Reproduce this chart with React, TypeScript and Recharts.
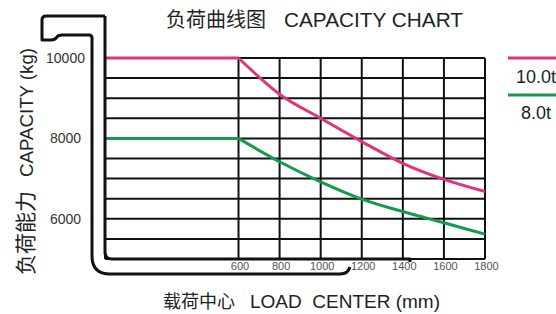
import React from "react";
import { CartesianGrid, Line, LineChart, XAxis, YAxis } from "recharts";

// load centre (mm); the first entry is the heel of the fork, the flat part ends at 600
const loadCenter = [-50, 600, 800, 1000, 1200, 1400, 1600, 1800];
const capacity10t = [10000, 10000, 9100, 8500, 7920, 7380, 6980, 6680];
const capacity8t = [8000, 8000, 7420, 6920, 6490, 6180, 5900, 5620];
const kneeIndex = 1;

const xTicks = [600, 800, 1000, 1200, 1400, 1600, 1800];
const yTicks = [5000, 5500, 6000, 6500, 7000, 7500, 8000, 8500, 9000, 9500, 10000];
const yLabelled = [6000, 8000, 10000];

const seriesNames = ["10.0t", "8.0t"];
const MAGENTA = "#e0337f";
const GREEN = "#159a4f";

const W = 556;
const H = 314;
const PLOT_LEFT = 105;
const PLOT_TOP = 58;
const PLOT_RIGHT = 485;
const PLOT_BOTTOM = 259;
const Y_AXIS_W = 60;
const X_AXIS_H = 20;

const LATIN = "'Liberation Sans', Arial, Helvetica, sans-serif";
const CJK = "'Noto Sans CJK SC', 'Noto Sans', sans-serif";

const data = loadCenter.map((x, i) => ({
  x,
  flat10: i <= kneeIndex ? capacity10t[i] : null,
  curve10: i >= kneeIndex ? capacity10t[i] : null,
  flat8: i <= kneeIndex ? capacity8t[i] : null,
  curve8: i >= kneeIndex ? capacity8t[i] : null,
}));

function YTick({ y, payload }: any) {
  if (!yLabelled.includes(payload.value)) return null;
  return (
    <text x={PLOT_LEFT - 39.5} y={y + 5} textAnchor="middle" fontSize={14} fontFamily={LATIN} fill="#333">
      {payload.value}
    </text>
  );
}

function XTick({ x, payload }: any) {
  return (
    <text x={x + 1.5} y={PLOT_BOTTOM + 11} textAnchor="middle" fontSize={11} fontFamily={LATIN} fill="#555">
      {payload.value}
    </text>
  );
}

function Overlay() {
  const L = PLOT_LEFT;
  const B = PLOT_BOTTOM;
  const outer =
    `M ${L} 16 H 46 Q 42 16 42 20 V 40 H 51 Q 55 40 56.5 37.5 Q 58 35 62 35 H 89 Q 92 35 92 38 ` +
    `V 256 Q 92 274 110 274 H 340 Q 348 274 350 267`;
  const inner = `M ${L} 16 V ${B - 7} Q ${L} ${B} ${L + 7} ${B} H 410 V 262`;
  const colors = [MAGENTA, GREEN];
  return (
    <svg width={W} height={H} style={{ position: "absolute", left: 0, top: 0 }}>
      <path d={outer} fill="none" stroke="#111" strokeWidth={3} strokeLinejoin="round" />
      <path d={inner} fill="none" stroke="#111" strokeWidth={3} strokeLinejoin="round" />

      <text x={166} y={26.5} fontSize={20} fontFamily={CJK} fill="#222">负荷曲线图</text>
      <text x={284} y={26.5} fontSize={20} fontFamily={LATIN} fill="#222" textLength={179} lengthAdjust="spacingAndGlyphs">
        CAPACITY CHART
      </text>

      <text x={163} y={307.5} fontSize={18} fontFamily={CJK} fill="#222">载荷中心</text>
      <text x={250} y={308} fontSize={19} fontFamily={LATIN} fill="#222" textLength={190} lengthAdjust="spacingAndGlyphs">
        LOAD{"\u00a0"} CENTER (mm)
      </text>

      <g transform="translate(33, 0) rotate(-90)">
        <text x={-275} y={0} fontSize={21} fontFamily={CJK} fill="#222">负荷能力</text>
        <text x={-177} y={0} fontSize={19} fontFamily={LATIN} fill="#222" textLength={129} lengthAdjust="spacingAndGlyphs">
          CAPACITY (kg)
        </text>
      </g>

      {seriesNames.map((name, i) => (
        <g key={name}>
          <line x1={508} x2={W} y1={58 + i * 37} y2={58 + i * 37} stroke={colors[i]} strokeWidth={3} />
          <text x={i === 0 ? 516 : 521} y={83 + i * 36} fontSize={18} fontFamily={LATIN} fill="#222">
            {name}
          </text>
        </g>
      ))}
    </svg>
  );
}

export default function App() {
  return (
    <div style={{ position: "absolute", left: 0, top: 0, width: W, height: H, background: "#fff" }}>
      <LineChart
        width={W}
        height={H}
        data={data}
        margin={{
          top: PLOT_TOP,
          right: W - PLOT_RIGHT,
          left: PLOT_LEFT - Y_AXIS_W,
          bottom: H - PLOT_BOTTOM - X_AXIS_H,
        }}
      >
        <CartesianGrid stroke="#111" strokeWidth={2} />
        <XAxis
          dataKey="x"
          type="number"
          domain={[-50, 1800]}
          ticks={xTicks}
          interval={0}
          height={X_AXIS_H}
          axisLine={false}
          tickLine={false}
          tick={<XTick />}
        />
        <YAxis
          type="number"
          domain={[5000, 10000]}
          ticks={yTicks}
          interval={0}
          width={Y_AXIS_W}
          axisLine={false}
          tickLine={false}
          tick={<YTick />}
        />
        <Line dataKey="flat10" type="linear" stroke={MAGENTA} strokeWidth={3} dot={false} isAnimationActive={false} />
        <Line dataKey="curve10" type="monotone" stroke={MAGENTA} strokeWidth={3} dot={false} isAnimationActive={false} />
        <Line dataKey="flat8" type="linear" stroke={GREEN} strokeWidth={3} dot={false} isAnimationActive={false} />
        <Line dataKey="curve8" type="monotone" stroke={GREEN} strokeWidth={3} dot={false} isAnimationActive={false} />
      </LineChart>
      <Overlay />
    </div>
  );
}
